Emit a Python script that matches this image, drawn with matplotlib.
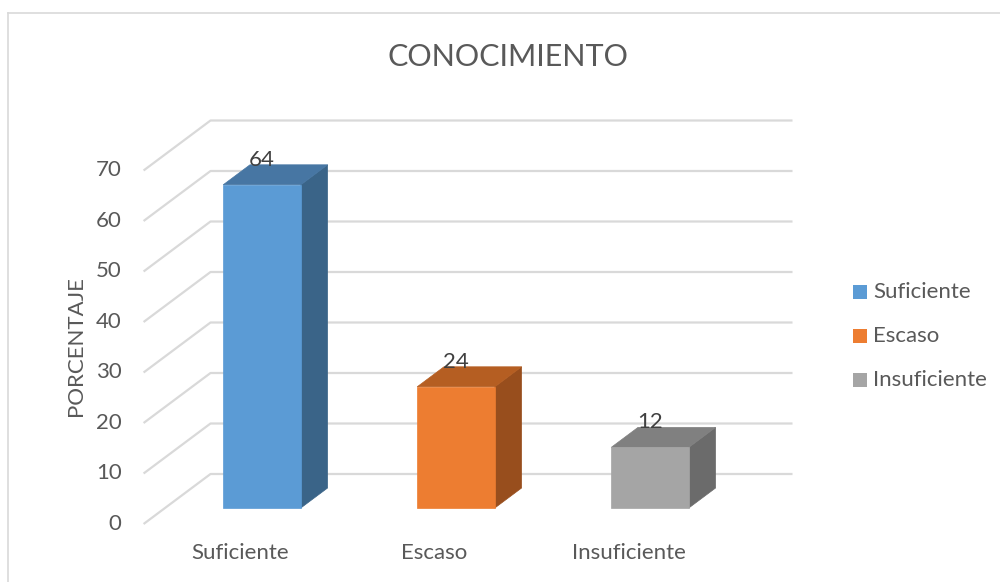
import matplotlib
matplotlib.use("Agg")
import matplotlib.pyplot as plt
from matplotlib.patches import Polygon, Rectangle
from matplotlib.lines import Line2D

# --- data -------------------------------------------------------------
categories = ["Suficiente", "Escaso", "Insuficiente"]
values = [64, 24, 12]
y_ticks = [0, 10, 20, 30, 40, 50, 60, 70]
title = "CONOCIMIENTO"
y_label = "PORCENTAJE"

front_colors = ["#5B9BD5", "#ED7D31", "#A5A5A5"]
top_colors = ["#4776A3", "#B55E22", "#808080"]
side_colors = ["#3A6488", "#984E1D", "#6B6B6B"]

# --- pseudo-3D projection ----------------------------------------------
DX, DY = 0.345, 9.9     # shift of the full floor depth (category units, value units)
D0 = 0.32               # depth of the bars' front face
D1 = 0.72               # depth of the bars' back face
HALF = 0.20             # half bar width in category units


def proj(x, v, d):
    return x + (d - D0) * DX, v + (d - D0) * DY


plt.rcParams["font.family"] = ["Lato", "DejaVu Sans"]

W, H = 1000, 582
fig = plt.figure(figsize=(W / 100, H / 100), dpi=100)
ax = fig.add_axes([0, 0, 1, 1])
ax.set_xlim(-262 / 194, (W - 262) / 194)
ax.set_ylim(-(H - 508) / 5.05, 508 / 5.05)
ax.axis("off")

# chart area border
fig.add_artist(Line2D([8 / W, 8 / W], [0, 1 - 13 / H], transform=fig.transFigure,
                      color="#D9D9D9", lw=1.2))
fig.add_artist(Line2D([8 / W, 1], [1 - 13 / H, 1 - 13 / H], transform=fig.transFigure,
                      color="#D9D9D9", lw=1.2))

# gridlines: side wall diagonal + back wall horizontal
x_left, x_right = -0.5, len(categories) - 0.5
grid_kw = dict(color="#D9D9D9", lw=1.6, zorder=1, solid_capstyle="butt")
for v in y_ticks:
    p0 = proj(x_left, v, 0)
    p1 = proj(x_left, v, 1)
    p2 = proj(x_right, v, 1)
    ax.plot([p0[0], p1[0], p2[0]], [p0[1], p1[1], p2[1]], **grid_kw)
    ax.annotate(str(v), xy=p0, xytext=(-22, 0), textcoords="offset pixels",
                ha="right", va="center", fontsize=16, color="#595959")

# bars
for i, (v, fc, tc, sc) in enumerate(zip(values, front_colors, top_colors, side_colors)):
    xl, xr = i - HALF, i + HALF
    front = [proj(xl, 0, D0), proj(xr, 0, D0), proj(xr, v, D0), proj(xl, v, D0)]
    top = [proj(xl, v, D0), proj(xr, v, D0), proj(xr, v, D1), proj(xl, v, D1)]
    side = [proj(xr, 0, D0), proj(xr, 0, D1), proj(xr, v, D1), proj(xr, v, D0)]
    ax.add_patch(Polygon(side, closed=True, facecolor=sc, edgecolor=sc, lw=0.5, zorder=3))
    ax.add_patch(Polygon(top, closed=True, facecolor=tc, edgecolor=tc, lw=0.5, zorder=3))
    ax.add_patch(Polygon(front, closed=True, facecolor=fc, edgecolor=fc, lw=0.5, zorder=4))
    ax.annotate(str(v), xy=proj(i, v, D0), xytext=(0, 25), textcoords="offset pixels",
                ha="center", va="center", fontsize=16, color="#404040", zorder=5)
    ax.annotate(categories[i], xy=proj(i, 0, 0), xytext=(0, -29), textcoords="offset pixels",
                ha="center", va="center", fontsize=16, color="#595959")

# axis title and chart title
fig.text(76 / W, 1 - 346 / H, y_label, rotation=90, ha="center", va="center",
         fontsize=16, color="#595959")
fig.text(508 / W, 1 - 57 / H, title, ha="center", va="center",
         fontsize=22, color="#595959")

# legend
for k, (name, c) in enumerate(zip(categories, front_colors)):
    yc = 292 + 44 * k
    fig.add_artist(Rectangle((853 / W, 1 - (yc + 7) / H), 14 / W, 14 / H,
                             transform=fig.transFigure, facecolor=c, edgecolor="none"))
    fig.text(873 / W, 1 - yc / H, name, ha="left", va="center",
             fontsize=16, color="#595959")

fig.savefig("out.png", dpi=100, facecolor="white")
